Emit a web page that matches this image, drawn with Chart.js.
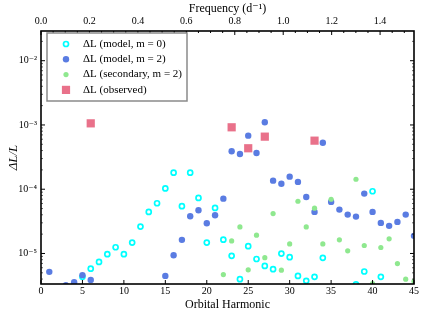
<!DOCTYPE html>
<html><head><meta charset="utf-8">
<script src="https://cdn.jsdelivr.net/npm/chart.js@4/dist/chart.umd.min.js"></script>
<style>html,body{margin:0;padding:0;background:#fff;}#wrap{width:423px;height:315px;position:relative;}</style>
</head><body><div id="wrap"><canvas id="c" width="423" height="315"></canvas></div>
<script>
// ---- data ----
const harmonicsM0 = [5,6,7,8,9,10,11,12,13,14,15,16,17,18,19,20,21,22,23,24,25,26,27,28,29,30,31,32,33,34,38,39,40,41];
const valuesM0 = [4.33e-6,5.8e-6,7.4e-6,9.75e-6,1.25e-5,9.75e-6,1.48e-5,2.62e-5,4.44e-5,6.05e-5,1.03e-4,1.81e-4,5.44e-5,1.81e-4,7.32e-5,1.48e-5,5.12e-5,1.64e-5,9.2e-6,3.98e-6,1.3e-5,8.2e-6,6.4e-6,5.7e-6,9.96e-6,8.75e-6,4.48e-6,3.75e-6,4.33e-6,8.55e-6,3.3e-6,5.24e-6,9.3e-5,4.33e-6];

const harmonicsM2 = [1,3,4,5,6,15,16,17,18,19,20,21,22,23,24,25,26,27,28,29,30,31,32,33,34,35,36,37,38,39,40,41,42,43,44,45];
const valuesM2 = [5.18e-6,3.2e-6,3.57e-6,4.6e-6,3.88e-6,4.48e-6,9.4e-6,1.63e-5,3.8e-5,4.71e-5,2.96e-5,3.94e-5,7.14e-5,3.9e-4,3.54e-4,6.82e-4,3.67e-4,1.1e-3,1.36e-4,1.22e-4,1.57e-4,1.3e-4,7.58e-5,4.44e-5,5.3e-4,6.35e-5,4.82e-5,4.03e-5,3.75e-5,8.55e-5,4.44e-5,2.99e-5,2.69e-5,3.1e-5,4.03e-5,1.88e-5];

const harmonicsSec = [22,23,24,25,26,27,28,29,30,31,32,33,34,35,36,37,38,39,40,41,42,43,44,45];
const valuesSec = [4.7e-6,1.57e-5,2.59e-5,5.56e-6,1.93e-5,8.6e-6,4.18e-5,5.5e-6,1.41e-5,6.5e-5,2.59e-5,5.07e-5,1.41e-5,6.98e-5,1.63e-5,1.1e-5,1.43e-4,1.33e-5,3.4e-6,1.24e-5,1.69e-5,6.97e-6,3.98e-6,3.7e-6];

const harmonicsObs = [6,23,25,27,33];
const valuesObs = [1.06e-3,9.2e-4,4.34e-4,6.58e-4,5.7e-4];

const seriesLabels = ['\u0394L (model, m = 0)','\u0394L (model, m = 2)','\u0394L (secondary, m = 2)','\u0394L (observed)'];

const xTicks = [0,5,10,15,20,25,30,35,40,45];
const freqTicks = [0.0,0.2,0.4,0.6,0.8,1.0,1.2,1.4];
const yTicks = [1e-5,1e-4,1e-3,1e-2];
const yTickLabels = ['10\u207B\u2075','10\u207B\u2074','10\u207B\u00B3','10\u207B\u00B2'];
const xRange = [0,45];
const yRange = [3.35e-6,0.029];
const orbitalFrequency = 1.54/45; // d^-1 per harmonic

// ---- chart ----
const FONT = "'Liberation Serif','DejaVu Serif',serif";
Chart.defaults.font.family = FONT;
Chart.defaults.color = '#000';

const pts = (xs, ys) => xs.map((x,i)=>({x:x,y:ys[i]}));

const datasets = [
  {label:seriesLabels[0], data:pts(harmonicsM0,valuesM0), pointStyle:'circle', pointRadius:2.5, borderWidth:1.7,
   borderColor:'#00ffff', backgroundColor:'#ffffff', order:3},
  {label:seriesLabels[1], data:pts(harmonicsM2,valuesM2), pointStyle:'circle', pointRadius:3.2, borderWidth:0,
   borderColor:'#5a7ce2', backgroundColor:'#5a7ce2', order:2},
  {label:seriesLabels[2], data:pts(harmonicsSec,valuesSec), pointStyle:'circle', pointRadius:2.6, borderWidth:0,
   borderColor:'#8fe88f', backgroundColor:'#8fe88f', order:1},
  {label:seriesLabels[3], data:pts(harmonicsObs,valuesObs), pointStyle:'rect', pointRadius:5.8, borderWidth:0,
   borderColor:'#e9718a', backgroundColor:'#e9718a', order:0}
];
datasets.forEach(d=>{d.clip=0; d.pointHoverRadius=d.pointRadius;});

const framePlugin = {
  id:'frame',
  afterDatasetsDraw(chart){
    const {ctx, chartArea:{left,right,top,bottom}, scales:{x,x2,y}} = chart;
    ctx.save();
    ctx.strokeStyle='#000'; ctx.lineWidth=1;
    const vt=(px,len)=>{ctx.beginPath();ctx.moveTo(px,bottom);ctx.lineTo(px,bottom-len);ctx.stroke();};
    const vtTop=(px,len)=>{ctx.beginPath();ctx.moveTo(px,top);ctx.lineTo(px,top+len);ctx.stroke();};
    const ht=(py,len)=>{ctx.beginPath();ctx.moveTo(left,py);ctx.lineTo(left+len,py);ctx.moveTo(right,py);ctx.lineTo(right-len,py);ctx.stroke();};
    xTicks.forEach(v=>vt(x.getPixelForValue(v),4));
    const fmax = x2.max;
    for(let i=0;i*0.05<=fmax+1e-9;i++){
      const v=i*0.05; const major = (i%4===0);
      vtTop(x2.getPixelForValue(v), major?4:2);
    }
    yTicks.forEach(v=>ht(y.getPixelForValue(v),4));
    for(let e=-6;e<=-1;e++){
      for(let m=2;m<=9;m++){
        const v=m*Math.pow(10,e);
        if(v>yRange[0]&&v<yRange[1]){ ctx.lineWidth=0.6; ht(y.getPixelForValue(v),2); ctx.lineWidth=1; }
      }
    }
    ctx.lineWidth=1.6;
    ctx.strokeRect(left,top,right-left,bottom-top);
    ctx.restore();
  },
  afterDraw(chart){
    const ctx=chart.ctx;
    const bx=47, by=33, bw=140, bh=68;
    ctx.save();
    ctx.fillStyle='#fff'; ctx.fillRect(bx,by,bw,bh);
    ctx.strokeStyle='#8a8a8a'; ctx.lineWidth=1.5; ctx.strokeRect(bx,by,bw,bh);
    chart.data.datasets.forEach((d,i)=>{
      const cy = by+11+i*15.3;
      ctx.fillStyle=d.backgroundColor; ctx.strokeStyle=d.borderColor; ctx.lineWidth=d.borderWidth;
      Chart.helpers.drawPoint(ctx,{pointStyle:d.pointStyle,radius:d.pointRadius,borderWidth:d.borderWidth,rotation:0},bx+19,cy);
      ctx.fillStyle='#000'; ctx.font="11px "+FONT; ctx.textBaseline='middle'; ctx.textAlign='left';
      ctx.fillText(d.label,bx+36,cy);
    });
    ctx.restore();
  }
};

new Chart(document.getElementById('c'),{
  type:'scatter',
  data:{datasets:datasets},
  options:{
    responsive:false, animation:false, devicePixelRatio:1,
    layout:{padding:{right:9,left:0,top:0,bottom:0}},
    plugins:{legend:{display:false}, tooltip:{enabled:false}},
    scales:{
      x:{type:'linear',position:'bottom',min:xRange[0],max:xRange[1],
        afterBuildTicks:s=>{s.ticks=xTicks.map(v=>({value:v}));},
        ticks:{font:{size:10},padding:1,autoSkip:false,maxRotation:0,callback:v=>String(v)},
        grid:{display:false,drawTicks:false},border:{display:false},
        title:{display:true,text:'Orbital Harmonic',font:{size:12},padding:{top:0,bottom:3}},
        afterFit:s=>{s.height=31;}},
      x2:{type:'linear',position:'top',min:xRange[0]*orbitalFrequency,max:xRange[1]*orbitalFrequency,
        afterBuildTicks:s=>{s.ticks=freqTicks.map(v=>({value:v}));},
        ticks:{font:{size:10},padding:4,autoSkip:false,maxRotation:0,callback:v=>v.toFixed(1)},
        grid:{display:false,drawTicks:false},border:{display:false},
        title:{display:true,text:'Frequency (d\u207B\u00B9)',font:{size:12},padding:{top:1.5,bottom:0}},
        afterFit:s=>{s.height=31;}},
      y:{type:'logarithmic',position:'left',min:yRange[0],max:yRange[1],
        afterBuildTicks:s=>{s.ticks=yTicks.map(v=>({value:v}));},
        ticks:{font:{size:10},padding:4,autoSkip:false,callback:(v)=>{const i=yTicks.findIndex(t=>Math.abs(t-v)/t<1e-6);return i>=0?yTickLabels[i]:'';}},
        grid:{display:false,drawTicks:false},border:{display:false},
        title:{display:true,text:'\u0394L/L',font:{size:13,style:'italic'},padding:{top:6,bottom:0}},
        afterFit:s=>{s.width=41;}}
    }
  },
  plugins:[framePlugin]
});
</script>
</body></html>
